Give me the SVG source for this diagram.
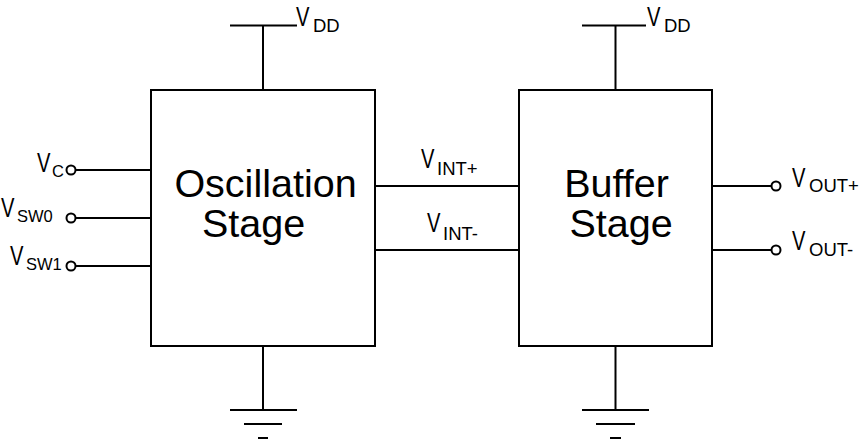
<svg xmlns="http://www.w3.org/2000/svg" width="866" height="445" viewBox="0 0 866 445">
<style>
.ln{stroke:#000;stroke-width:2;fill:none;stroke-linecap:butt}
.box{stroke:#000;stroke-width:2;fill:#fff}
.pin{stroke:#000;stroke-width:2;fill:#fff}
.big{font-family:"Liberation Sans",Arial,sans-serif;font-size:39.5px;fill:#000}
.v{font-family:"Liberation Sans",Arial,sans-serif;font-size:28px;fill:#000}
.sub{font-family:"Liberation Sans",Arial,sans-serif;font-size:18.5px;fill:#000}
.subs{font-family:"Liberation Sans",Arial,sans-serif;font-size:16.5px;fill:#000}
</style>
<rect width="866" height="445" fill="#fff"/>
<g id="connectors">
<path class="ln" d="M230,25.5H297M263,25.5V90"/>
<path class="ln" d="M582,25.5H646M615.5,25.5V90"/>
<path class="ln" d="M263,346V410M230,410H297M244,424H282M258,438H268"/>
<path class="ln" d="M615.5,346V410M582,410H649M596,424H635M610,438H621"/>
<path class="ln" d="M75.5,170H151M75.5,218H151M75.5,266H151"/>
<path class="ln" d="M375,186H519M375,250H519"/>
<path class="ln" d="M712,186H771.5M712,250H771.5"/>
</g>
<g id="oscillation-stage">
<rect class="box" x="151" y="90" width="224" height="256"/>
<text class="big" x="265.5" y="197" text-anchor="middle">Oscillation</text>
<text class="big" x="253.5" y="237" text-anchor="middle">Stage</text>
</g>
<g id="buffer-stage">
<rect class="box" x="519" y="90" width="193" height="256"/>
<text class="big" x="616.5" y="197" text-anchor="middle">Buffer</text>
<text class="big" x="621" y="237" text-anchor="middle">Stage</text>
</g>
<g id="vdd-osc">
<text class="v" transform="translate(296,26) scale(0.72,1)">V</text>
<text class="sub" x="313" y="32">DD</text>
</g>
<g id="vdd-buf">
<text class="v" transform="translate(647,26) scale(0.72,1)">V</text>
<text class="sub" x="664" y="32">DD</text>
</g>
<g id="vc">
<circle class="pin" cx="71" cy="170" r="4.5"/>
<text class="v" transform="translate(37,172) scale(0.72,1)">V</text>
<text class="subs" x="52" y="177">C</text>
</g>
<g id="vsw0">
<circle class="pin" cx="71" cy="218" r="4.5"/>
<text class="v" transform="translate(1,217) scale(0.72,1)">V</text>
<text class="subs" x="17" y="222">SW0</text>
</g>
<g id="vsw1">
<circle class="pin" cx="71" cy="266" r="4.5"/>
<text class="v" transform="translate(10,265) scale(0.72,1)">V</text>
<text class="subs" x="26" y="270">SW1</text>
</g>
<g id="vint-plus">
<text class="v" transform="translate(421,168) scale(0.72,1)">V</text>
<text class="sub" x="437" y="175">INT+</text>
</g>
<g id="vint-minus">
<text class="v" transform="translate(427,232) scale(0.72,1)">V</text>
<text class="sub" x="443" y="240">INT-</text>
</g>
<g id="vout-plus">
<circle class="pin" cx="776" cy="186" r="4.5"/>
<text class="v" transform="translate(792,187) scale(0.72,1)">V</text>
<text class="sub" x="809" y="192">OUT+</text>
</g>
<g id="vout-minus">
<circle class="pin" cx="776" cy="250" r="4.5"/>
<text class="v" transform="translate(792,250) scale(0.72,1)">V</text>
<text class="sub" x="809" y="256">OUT-</text>
</g>
</svg>
